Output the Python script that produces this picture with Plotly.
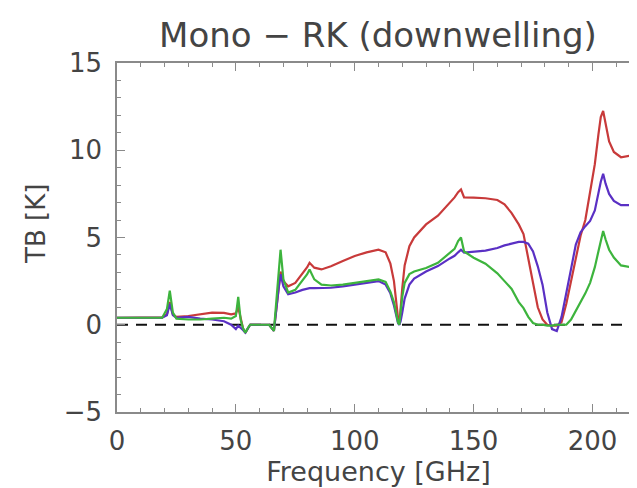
import plotly.graph_objects as go

freq = [0, 5, 10, 15, 19, 21, 22.2, 23.5, 25, 30, 35, 40, 45, 48, 50, 51, 52, 53, 54, 55, 56, 60, 64, 66, 67, 68, 68.8, 70, 72, 75, 78, 80, 81, 83, 86, 90, 95, 100, 105, 110, 113, 115, 116.5, 117.5, 118.2, 118.75, 119.3, 120, 121, 123, 125, 130, 135, 140, 142, 143.5, 144.7, 146, 148, 150, 155, 160, 163, 166, 169, 171, 173, 175, 177, 179, 181, 183, 185, 187, 189, 191, 193, 195, 197, 199, 201, 202.5, 203.5, 204.5, 205.5, 207, 209, 212, 216, 220]

tb_red = [0.4, 0.4, 0.4, 0.4, 0.42, 0.6, 1.3, 0.6, 0.45, 0.5, 0.6, 0.7, 0.68, 0.6, 0.65, 1.0, 0.4, -0.2, -0.45, -0.2, 0, 0, 0, -0.35, 1.0, 2.2, 3.05, 2.5, 2.2, 2.4, 2.9, 3.3, 3.55, 3.27, 3.17, 3.35, 3.65, 3.94, 4.15, 4.3, 4.15, 3.5, 2.5, 1.2, 0.4, 0, 1.0, 2.1, 3.4, 4.5, 5.0, 5.75, 6.25, 7.0, 7.3, 7.6, 7.75, 7.3, 7.3, 7.28, 7.25, 7.15, 6.9, 6.4, 5.75, 5.2, 3.8, 2.4, 1.0, 0.3, 0, -0.05, -0.05, 0.15, 1.2, 2.5, 3.9, 5.1, 6.0, 7.6, 9.2, 10.9, 11.9, 12.25, 11.5, 10.5, 9.9, 9.6, 9.7, 10.0]

tb_blue = [0.4, 0.4, 0.4, 0.4, 0.4, 0.55, 1.2, 0.55, 0.4, 0.45, 0.35, 0.3, 0.2, 0, -0.25, -0.05, -0.15, -0.3, -0.45, -0.2, 0, 0, 0, -0.35, 1.0, 2.1, 2.9, 2.2, 1.75, 1.85, 2.0, 2.05, 2.1, 2.1, 2.1, 2.12, 2.2, 2.3, 2.42, 2.5, 2.3, 1.8, 1.1, 0.4, 0.1, 0, 0.2, 0.7, 1.5, 2.3, 2.65, 3.05, 3.36, 3.8, 3.95, 4.15, 4.3, 4.13, 4.15, 4.2, 4.25, 4.4, 4.55, 4.65, 4.75, 4.75, 4.65, 4.2, 3.35, 2.3, 0.7, -0.25, -0.36, 0.45, 1.75, 3.2, 4.6, 5.3, 5.65, 5.95, 6.55, 7.6, 8.2, 8.65, 8.1, 7.5, 7.1, 6.85, 6.85, 7.1]

tb_green = [0.4, 0.4, 0.4, 0.4, 0.4, 0.9, 1.95, 0.7, 0.35, 0.3, 0.3, 0.35, 0.4, 0.35, 0.5, 1.6, 0.3, -0.2, -0.45, -0.2, 0, 0, 0, -0.35, 1.5, 3.3, 4.3, 2.6, 1.85, 2.0, 2.5, 2.9, 3.17, 2.6, 2.3, 2.25, 2.3, 2.4, 2.5, 2.6, 2.45, 1.9, 1.3, 0.5, 0.15, 0, 0.7, 1.6, 2.4, 2.9, 3.05, 3.25, 3.55, 4.1, 4.35, 4.8, 5.0, 4.2, 4.0, 3.84, 3.5, 2.95, 2.5, 2.05, 1.3, 0.95, 0.45, 0.1, 0, 0, -0.05, -0.05, 0, 0, 0, 0.3, 0.8, 1.3, 1.8, 2.4, 3.3, 4.2, 4.85, 5.37, 4.9, 4.3, 3.85, 3.4, 3.3, 3.4]

zero_x = [0, 220]
zero_y = [0, 0]

x_ticks = [0, 50, 100, 150, 200]
y_ticks = [-5, 0, 5, 10, 15]

FONT = "DejaVu Sans"
TXT = "#444444"
AX = "#8a8a8a"

fig = go.Figure()
fig.add_trace(go.Scatter(x=zero_x, y=zero_y, mode="lines",
                         line=dict(color="#111111", width=2, dash="11px,8px"), showlegend=False))
fig.add_trace(go.Scatter(x=freq, y=tb_red, mode="lines",
                         line=dict(color="#c83a3a", width=2.2), showlegend=False))
fig.add_trace(go.Scatter(x=freq, y=tb_blue, mode="lines",
                         line=dict(color="#5a30c4", width=2.2), showlegend=False))
fig.add_trace(go.Scatter(x=freq, y=tb_green, mode="lines",
                         line=dict(color="#3db43d", width=2.2), showlegend=False))

fig.update_layout(
    width=637, height=488,
    margin=dict(l=109, r=5, t=55, b=84, autoexpand=False),
    paper_bgcolor="white", plot_bgcolor="white",
    font=dict(family=FONT, color=TXT, size=25),
    title=dict(text="Mono − RK (downwelling)", x=370 / 637, xanchor="center",
               y=1 - 27 / 488, yanchor="middle", yref="container",
               font=dict(size=34, family=FONT, color=TXT)),
    annotations=[dict(text="TB [K]", textangle=-90, xref="paper", yref="paper",
                      x=(28 - 109) / 523, y=(404 - 216) / 349,
                      xanchor="center", yanchor="middle", showarrow=False,
                      font=dict(size=26, family=FONT, color=TXT))],
)
fig.update_xaxes(
    range=[0, 220], tickvals=x_ticks, ticktext=[str(v) for v in x_ticks],
    ticks="inside", ticklen=8, tickcolor=AX, tickwidth=1,
    showline=True, linecolor=AX, linewidth=1.5, mirror="ticks",
    showgrid=False, zeroline=False, automargin=False,
    minor=dict(ticks="inside", ticklen=4, dtick=10, tickcolor=AX, showgrid=False),
    tickfont=dict(size=26, family=FONT, color=TXT), ticklabelstandoff=5,
    title=dict(text="Frequency [GHz]", font=dict(size=27, family=FONT, color=TXT), standoff=1),
)
fig.update_yaxes(
    range=[-5, 15], tickvals=y_ticks, ticktext=["−5", "0", "5", "10", "15"],
    ticks="inside", ticklen=8, tickcolor=AX, tickwidth=1,
    showline=True, linecolor=AX, linewidth=1.5, mirror="ticks",
    showgrid=False, zeroline=False, automargin=False,
    minor=dict(ticks="inside", ticklen=4, dtick=1, tickcolor=AX, showgrid=False),
    tickfont=dict(size=26, family=FONT, color=TXT), ticklabelstandoff=8,
)

fig.write_html("out.html")
